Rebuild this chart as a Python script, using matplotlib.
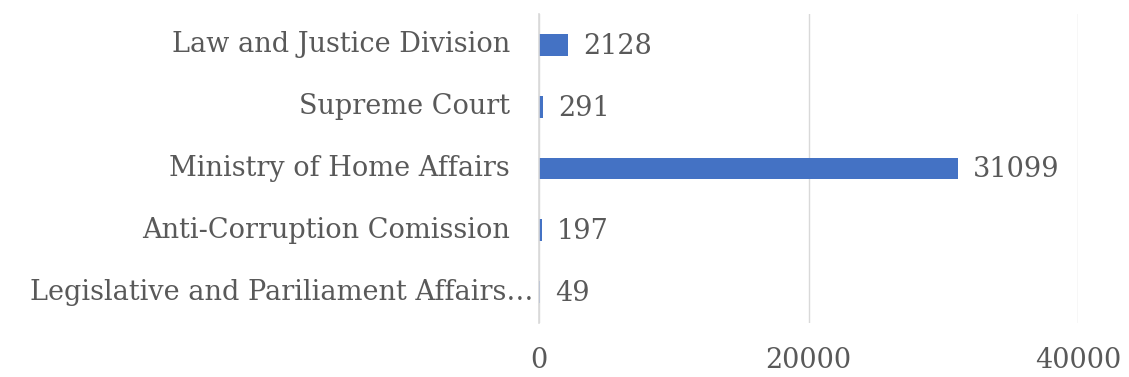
import matplotlib
matplotlib.use("Agg")
import matplotlib.pyplot as plt
from matplotlib.transforms import offset_copy

categories = [
    "Law and Justice Division",
    "Supreme Court",
    "Ministry of Home Affairs",
    "Anti-Corruption Comission",
    "Legislative and Pariliament Affairs…",
]
values = [2128, 291, 31099, 197, 49]
x_ticks = [0, 20000, 40000]

TEXT = "#595959"
GRID = "#d9d9d9"
BAR = "#4472c4"
FONT = "DejaVu Serif"
FS = 19.5

fig = plt.figure(figsize=(11.29, 3.77), dpi=100)
ax = fig.add_axes([539 / 1129, 1 - 323 / 377, (1078 - 539) / 1129, (323 - 14) / 377])

pos = list(range(len(categories)))[::-1]
ax.barh(pos, values, height=0.35, color=BAR, zorder=3)

ax.set_xlim(0, 40000)
ax.set_ylim(-0.5, len(categories) - 0.5)
ax.set_xticks(x_ticks)
ax.set_xticklabels([str(t) for t in x_ticks], fontsize=FS, color=TEXT, family=FONT)
ax.tick_params(axis="x", length=0, pad=17)
ax.set_yticks([])

ax.grid(axis="x", color=GRID, linewidth=1, zorder=0)
for s in ["top", "right", "bottom"]:
    ax.spines[s].set_visible(False)
ax.spines["left"].set_color(GRID)
ax.spines["left"].set_linewidth(1.2)
ax.spines["left"].set_zorder(4)

# category names, right-aligned left of the axis
for p, name in zip(pos, categories):
    shift = -4 if name.endswith("…") else -21
    tr = offset_copy(ax.get_yaxis_transform(), fig=fig, x=shift, y=0, units="points")
    ax.text(0, p, name, transform=tr, ha="right", va="center",
            fontsize=FS, color=TEXT, family=FONT)

# value labels at bar ends
for p, v in zip(pos, values):
    ax.annotate(str(v), (v, p), xytext=(11, -1), textcoords="offset points",
                ha="left", va="center", fontsize=FS, color=TEXT, family=FONT,
                annotation_clip=False)

fig.savefig("out.png", dpi=100, facecolor="white")
